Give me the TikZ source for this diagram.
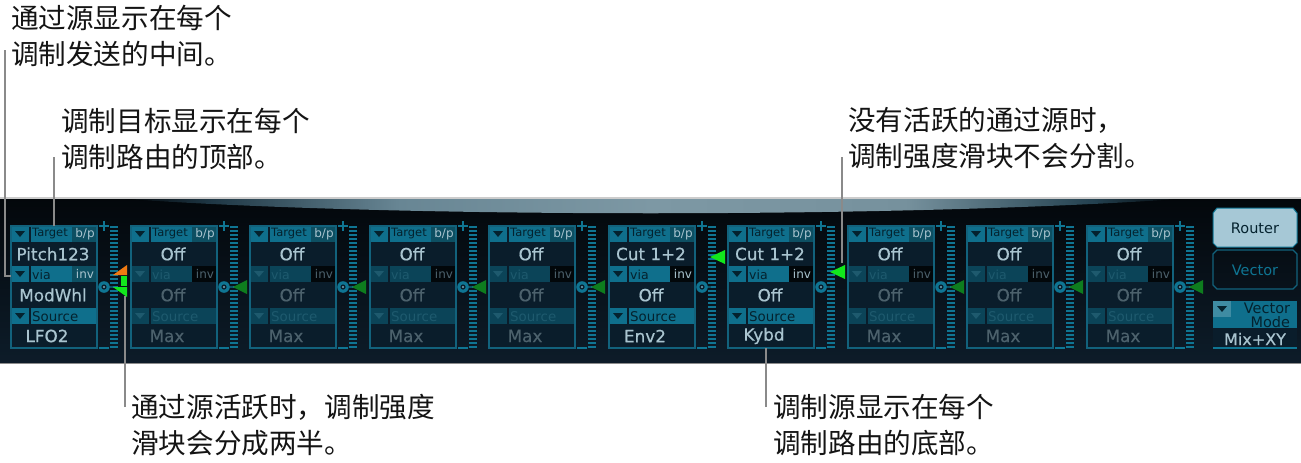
\documentclass[tikz,border=0pt]{standalone}
\usepackage{fontspec}
\setmainfont{DejaVu Sans}
\newfontfamily\cjk{Noto Sans CJK SC}
\newfontfamily\valfont[FakeBold=0.5]{DejaVu Sans}
\usetikzlibrary{calc}
\definecolor{rowon}{HTML}{0F6F8C}
\definecolor{rowoff}{HTML}{0B4458}
\definecolor{valon}{HTML}{A9C4CF}
\definecolor{valoff}{HTML}{4C616C}
\definecolor{labon}{HTML}{04222E}
\definecolor{laboff}{HTML}{1E5A6E}
\definecolor{boxedge}{HTML}{12627C}
\definecolor{boxfill}{HTML}{0A1D2B}
\definecolor{bpfill}{HTML}{0D4F62}
\definecolor{invblack}{HTML}{02070A}
\definecolor{sliderc}{HTML}{0F7593}
\definecolor{leader}{HTML}{8A8A8A}
\definecolor{dimgreen}{HTML}{0E7D1E}
\definecolor{hotgreen}{HTML}{12E81C}
\definecolor{hotorange}{HTML}{F07A12}
\definecolor{routerfill}{HTML}{A6C8D6}
\definecolor{pantop}{HTML}{03070B}
\definecolor{panbot}{HTML}{0D1C29}
\pgfdeclarehorizontalshading{lens}{100bp}{
  color(0bp)=(pantop);
  color(25bp)=(pantop);
  color(29bp)=(rgb,255:red,30;green,54;blue,68);
  color(38bp)=(rgb,255:red,104;green,134;blue,148);
  color(50bp)=(rgb,255:red,125;green,152;blue,164);
  color(62bp)=(rgb,255:red,118;green,145;blue,157);
  color(71bp)=(rgb,255:red,35;green,64;blue,79);
  color(75bp)=(pantop);
  color(100bp)=(pantop)}
\tikzset{
  x=1pt,y=-1pt,
  note/.style={font=\cjk\fontsize{27.6}{36}\selectfont,align=left,inner sep=0pt,anchor=north west,text=black!92},
  leaderline/.style={draw=leader,line width=2pt},
  vallabel/.style={font=\valfont\fontsize{16.8}{16.8}\selectfont,inner sep=0pt,anchor=center},
  rowlabel/.style={font=\fontsize{11.5}{11.5}\selectfont,inner sep=0pt,anchor=west},
  smalllabel/.style={font=\fontsize{12}{12}\selectfont,inner sep=0pt,anchor=center},
  tickmark/.style={draw=sliderc,line width=1.4pt},
}
\newcommand{\rmodule}[7]{%
\colorlet{rowc}{row#6}\colorlet{valc}{val#6}\colorlet{labc}{lab#6}%
\begin{scope}[shift={(#2,0)}]
  \fill[boxfill] (0,226) rectangle (86,348);
  \fill[rowon] (0,226) rectangle (18,242);
  \fill[rowon] (20,226) rectangle (61,242);
  \fill[bpfill] (61,226) rectangle (86,242);
  \fill[labon] (4,231) -- (14,231) -- (9,237) -- cycle;
  \node[rowlabel,text=labon] (#1target) at (21,234) {Target};
  \node[smalllabel,text=valon] at (74,234) {b/p};
  \node[vallabel,text=valon] (#1tv) at (42,254) {#3};
  \fill[rowc] (0,266) rectangle (18,282);
  \fill[rowc] (20,266) rectangle (61,282);
  \fill[#7] (61,266) rectangle (86,282);
  \fill[labc] (4,271) -- (14,271) -- (9,277) -- cycle;
  \node[rowlabel,text=labc,font=\fontsize{12.5}{12.5}\selectfont] (#1via) at (21,275) {via};
  \node[smalllabel,text=valc] at (74,274) {inv};
  \node[vallabel,text=valc] (#1vv) at (42,295) {#4};
  \fill[rowc] (0,308) rectangle (18,324);
  \fill[rowc] (20,308) rectangle (86,324);
  \fill[labc] (4,313) -- (14,313) -- (9,319) -- cycle;
  \node[rowlabel,text=labc,font=\fontsize{13.4}{13.4}\selectfont] (#1src) at (21,317) {Source};
  \node[vallabel,text=valc] (#1sv) at (36,336) {#5};
  \draw[boxedge,line width=1.2pt] (0,226) rectangle (86,348);
  \draw[sliderc,line width=8pt,dash pattern=on 2.4pt off 1.6pt] (103,226) -- (103,348);
  \draw[tickmark] (93,221) -- (93,231) (88,226) -- (98,226);
  \draw[tickmark] (88,348) -- (98,348);
  \draw[sliderc!70!black,line width=1.5pt] (93,287) -- (102,287);
  \fill[sliderc] (93,287) circle (5.8pt);
  \fill[boxfill] (93,287) circle (2.6pt);
  \fill[valon!70!sliderc] (93,287) circle (1.1pt);
  \coordinate (#1m) at (0,276);
  \coordinate (#1bottom) at (38,348);
  \coordinate (#1top) at (43,226);
\end{scope}}
\newcommand{\dimslider}[1]{\fill[dimgreen] (#1+102,287) -- (#1+116,280) -- (#1+116,294) -- cycle;}
\begin{document}
\begin{tikzpicture}
\useasboundingbox (0,0) rectangle (1301,463);
\fill[white] (0,0) rectangle (1301,463);
\shade[top color=pantop,bottom color=panbot] (0,198) rectangle (1301,363);
\fill[shading=lens] (125,199) .. controls (400,218) and (900,218) .. (1180,199) -- cycle;
\draw[black!20,line width=1.2pt] (0,198) -- (1301,198);
\draw[black!45,line width=1pt] (0,363) -- (1301,363);
\rmodule{a}{11}{Pitch123}{ModWhl}{LFO2}{on}{bpfill}
\rmodule{b}{131}{Off}{Off}{Max}{off}{invblack}
\rmodule{c}{250}{Off}{Off}{Max}{off}{invblack}
\rmodule{d}{370}{Off}{Off}{Max}{off}{invblack}
\rmodule{e}{489}{Off}{Off}{Max}{off}{invblack}
\rmodule{f}{609}{Cut 1+2}{Off}{Env2}{on}{invblack}
\rmodule{g}{728}{Cut 1+2}{Off}{Kybd}{on}{invblack}
\rmodule{h}{848}{Off}{Off}{Max}{off}{invblack}
\rmodule{i}{967}{Off}{Off}{Max}{off}{invblack}
\rmodule{j}{1087}{Off}{Off}{Max}{off}{invblack}
\foreach \mx in {131,250,370,489,848,967,1087}{\dimslider{\mx}}
\fill[hotorange] (113,275) -- (127,265) -- (127,275) -- cycle;
\fill[hotgreen] (121,276) rectangle (127,286);
\fill[hotgreen] (113,287) -- (127,287) -- (127,297) -- cycle;
\fill[hotgreen] (710,257) -- (725,250) -- (725,264) -- cycle;
\fill[hotgreen] (830,272) -- (845,265) -- (845,279) -- cycle;
\fill[routerfill,draw=sliderc,line width=1pt] (1217,208) -- (1293,208) -- (1297,213) -- (1297,243) -- (1293,247) -- (1217,247) -- (1213,243) -- (1213,213) -- cycle;
\node[font=\fontsize{14.5}{14.5}\selectfont,text=labon,inner sep=0pt] (router) at (1255,228) {Router};
\draw[boxedge,line width=1.2pt] (1217,250) -- (1293,250) -- (1297,254) -- (1297,285) -- (1293,289) -- (1217,289) -- (1213,285) -- (1213,254) -- cycle;
\node[font=\fontsize{14.5}{14.5}\selectfont,text=sliderc,inner sep=0pt] (vector) at (1255,270) {Vector};
\fill[rowon] (1213,301) rectangle (1297,328);
\fill[rowon!80!white] (1213,301) rectangle (1231,317);
\fill[labon] (1217,306) -- (1227,306) -- (1222,312) -- cycle;
\node[font=\fontsize{14.5}{14}\selectfont,text=labon,inner sep=0pt,align=right] (vmode) at (1267,315) {Vector\\Mode};
\fill[boxfill] (1213,328) rectangle (1297,347);
\draw[sliderc,line width=1.2pt] (1213,348) -- (1297,348);
\node[font=\valfont\fontsize{16}{16}\selectfont,text=valon,inner sep=0pt] (mixxy) at (1255,339) {Mix+XY};
\node[note] (n1) at (11,5) {通过源显示在每个\\调制发送的中间。};
\node[note] (n2) at (61,108) {调制目标显示在每个\\调制路由的顶部。};
\node[note] (n3) at (131,394) {通过源活跃时，调制强度\\滑块会分成两半。};
\node[note] (n4) at (773,394) {调制源显示在每个\\调制路由的底部。};
\node[note] (n5) at (848,107) {没有活跃的通过源时，\\调制强度滑块不会分割。};
\coordinate (l1) at (5,50);
\coordinate (l2) at (54,157);
\coordinate (l3) at (125,407);
\coordinate (l3b) at (125,296);
\coordinate (l4) at (766,407);
\coordinate (l5) at (842,157);
\coordinate (l5b) at (842,263);
\draw[leaderline] (l1) |- (am);
\draw[leaderline] (l2) -- (l2 |- atop);
\draw[leaderline] (l3) -- (l3b);
\draw[leaderline] (l4) -- (l4 |- gbottom);
\draw[leaderline] (l5) -- (l5b);
\end{tikzpicture}
\end{document}
